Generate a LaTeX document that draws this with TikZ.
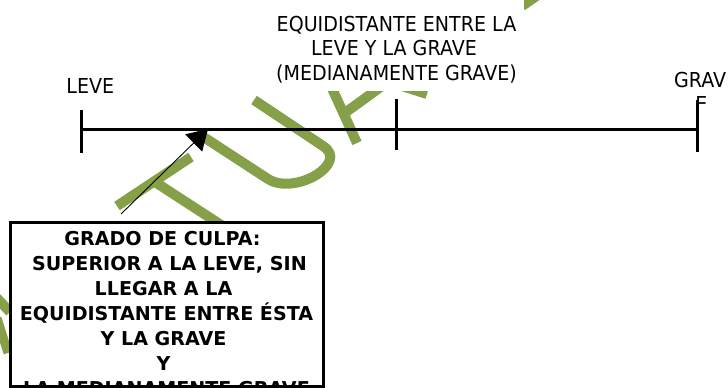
\documentclass[tikz,border=0pt]{standalone}
\usepackage{fontspec}
\setmainfont{DejaVu Sans}
\newfontfamily\narrowfont[FakeStretch=0.925]{DejaVu Sans}
\usetikzlibrary{arrows.meta}
\definecolor{wmgreen}{RGB}{134,160,74}
\begin{document}
\begin{tikzpicture}[x=1pt,y=-1pt,
  lbl/.style={inner sep=0pt, outer sep=0pt, anchor=base, font=\narrowfont\fontsize{20.6pt}{24.7pt}\selectfont},
  boldlbl/.style={inner sep=0pt, outer sep=0pt, anchor=base, font=\fontsize{19.1pt}{25pt}\selectfont\bfseries},
  axisline/.style={line width=3pt},
  wm/.style={draw=wmgreen, line width=10pt, line cap=butt},
  ptr/.style={line width=0.9pt, -{Triangle[length=20pt,width=24pt]}}]
\useasboundingbox (0,0) rectangle (728,388);
\fill[white] (0,0) rectangle (728,388);
% watermark fragments
\draw[wm] (117,206) -- (191,157);
\draw[wm] (155,182) -- (235,234);
\draw[wm] (202,136) -- (268,179) .. controls (295,196) and (350,163) .. (323,146) -- (254,100);
\draw[wm] (330,84) -- (357,143);
\draw[wm] (382,86) -- (342,115);
\draw[wm] (402,86) -- (427,94);
\draw[wm, line width=11pt] (401,-5) -- (388,8);
\draw[wm] (538,-5) -- (522,6);
\draw[wm] (-6,295) -- (10,312);
\draw[wm, line width=9pt] (-3,318) -- (8,353);
% white area behind the upper label
\fill[white] (270,-1) rectangle (524,90.5);
% box
\node[draw, fill=white, line width=3pt, minimum width=312.5pt, minimum height=164.3pt, inner sep=0pt] (culpa) at (166.75,304.15) {};
\begin{scope}
\clip (12,223.5) rectangle (321.5,384.8);
\node[boldlbl] (c1) at (162.5,245.5) {GRADO DE CULPA:};
\node[boldlbl] (c2) at (169.5,270.5) {SUPERIOR A LA LEVE, SIN};
\node[boldlbl] (c3) at (163.5,295.5) {LLEGAR A LA};
\node[boldlbl] (c4) at (166.5,320.5) {EQUIDISTANTE ENTRE ÉSTA};
\node[boldlbl] (c5) at (163.5,345.5) {Y LA GRAVE};
\node[boldlbl] (c6) at (163.5,370.5) {Y};
\node[boldlbl] (c7) at (166.5,395.5) {LA MEDIANAMENTE GRAVE};
\end{scope}
% upper labels
\node[lbl] (t1) at (396.5,31) {EQUIDISTANTE ENTRE LA};
\node[lbl] (t2) at (394,55.8) {LEVE Y LA GRAVE};
\node[lbl] (t3) at (396.5,80.6) {(MEDIANAMENTE GRAVE)};
\node[lbl] (leve) at (90.3,93.3) {LEVE};
\node[lbl, anchor=base west] (grav) at (674,87.8) {GRAV};
\begin{scope}
\clip (680,90) rectangle (720,104.5);
\node[lbl, anchor=base west] (gravE) at (695.3,111) {E};
\end{scope}
% scale
\coordinate (pA) at (81,129);
\coordinate (pB) at (396,129);
\coordinate (pC) at (697.5,129);
\draw[axisline] (pA) -- (pC);
\draw[axisline] (81,110) -- (81,153);
\draw[axisline] (396,99) -- (396,150);
\draw[axisline] (697.5,100) -- (697.5,152);
% pointer
\coordinate (tail) at (121,214);
\coordinate (tip) at (208,129);
\draw[ptr] (tail) -- (tip);
\end{tikzpicture}
\end{document}
